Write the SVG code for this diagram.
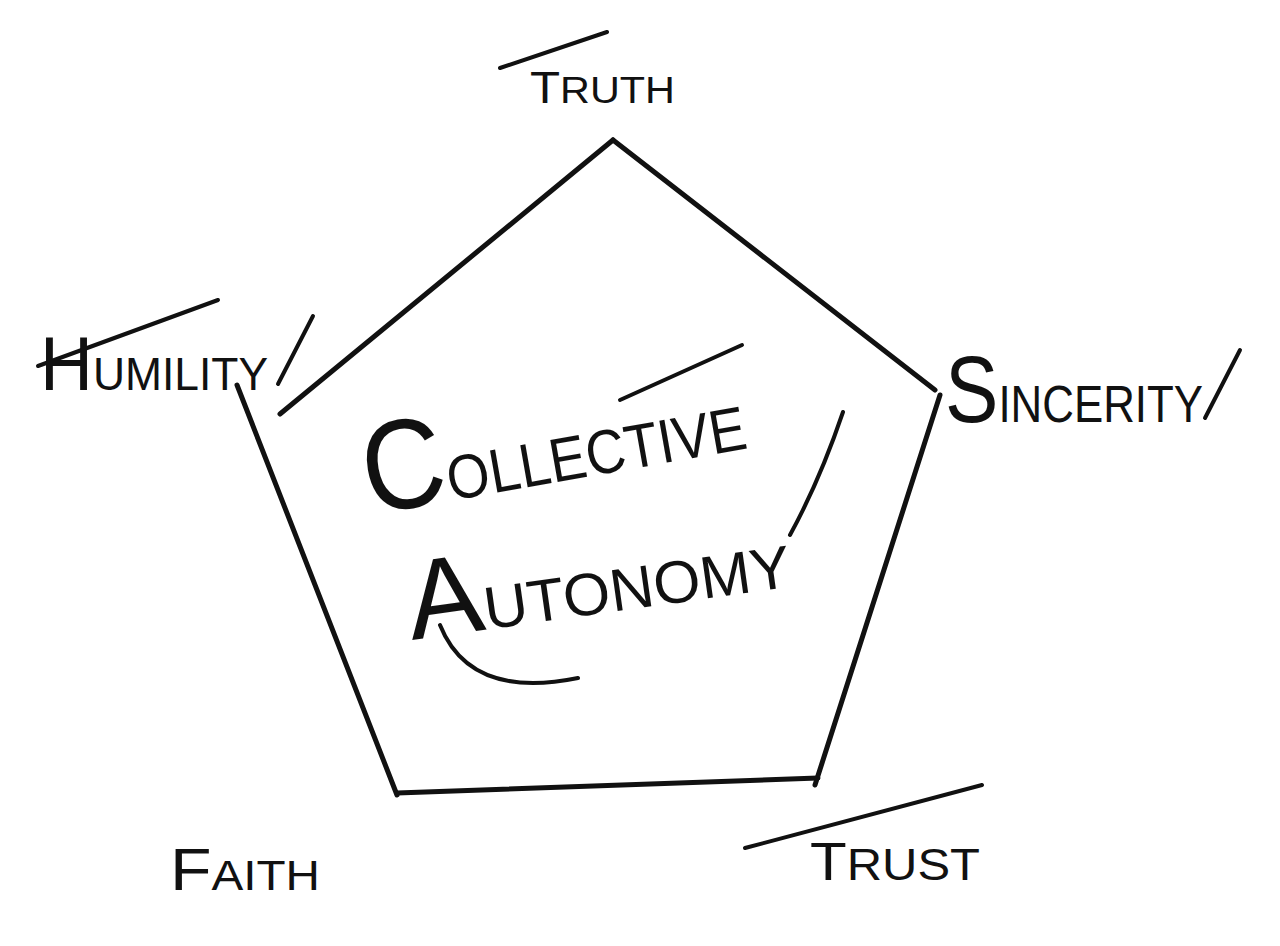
<svg xmlns="http://www.w3.org/2000/svg" width="1280" height="946" viewBox="0 0 1280 946">
<style>
.edge{fill:none;stroke:#111;stroke-width:5;stroke-linecap:round;stroke-linejoin:round}
.bar{fill:none;stroke:#111;stroke-width:4;stroke-linecap:round}
.lbl{font-family:"Liberation Sans","DejaVu Sans",sans-serif;fill:#111;font-weight:normal}
</style>
<rect width="1280" height="946" fill="#ffffff"/>
<g id="connectors">
<path class="edge" d="M613,140 L280,414"/>
<path class="edge" d="M613,140 L935,390"/>
<path class="edge" d="M237,385 L397,795"/>
<path class="edge" d="M397,793 L818,778"/>
<path class="edge" d="M940,395 L815,785"/>
</g>
<g id="node-truth">
<path class="bar" d="M500,68 L607,32"/>
<text class="lbl" x="530" y="103" textLength="145" lengthAdjust="spacingAndGlyphs"><tspan font-size="44">T</tspan><tspan font-size="37">RUTH</tspan></text>
</g>
<g id="node-humility">
<path class="bar" d="M38,366 L218,300"/>
<path class="bar" d="M278,384 L313,316"/>
<text class="lbl" x="40" y="390" textLength="228" lengthAdjust="spacingAndGlyphs"><tspan font-size="76">H</tspan><tspan font-size="46">UMILITY</tspan></text>
</g>
<g id="node-sincerity">
<text class="lbl" x="945" y="422" textLength="258" lengthAdjust="spacingAndGlyphs"><tspan font-size="95">S</tspan><tspan font-size="52">INCERITY</tspan></text>
<path class="bar" d="M1205,418 L1240,350"/>
</g>
<g id="node-faith">
<text class="lbl" x="170" y="890" textLength="150" lengthAdjust="spacingAndGlyphs"><tspan font-size="60">F</tspan><tspan font-size="42">AITH</tspan></text>
</g>
<g id="node-trust">
<path class="bar" d="M745,848 L982,785"/>
<text class="lbl" x="810" y="880" textLength="170" lengthAdjust="spacingAndGlyphs"><tspan font-size="54">T</tspan><tspan font-size="44">RUST</tspan></text>
</g>
<g id="node-center">
<path class="bar" d="M620,400 L742,345"/>
<path class="bar" d="M843,412 Q820,480 790,535"/>
<path class="bar" d="M440,625 Q470,700 578,678"/>
<text class="lbl" transform="rotate(-10 370 515)" x="370" y="515" textLength="385" lengthAdjust="spacingAndGlyphs"><tspan font-size="128">C</tspan><tspan font-size="62">OLLECTIVE</tspan></text>
<text class="lbl" transform="rotate(-8 412 640)" x="412" y="640" textLength="385" lengthAdjust="spacingAndGlyphs"><tspan font-size="112">A</tspan><tspan font-size="60">UTONOMY</tspan></text>
</g>
</svg>
